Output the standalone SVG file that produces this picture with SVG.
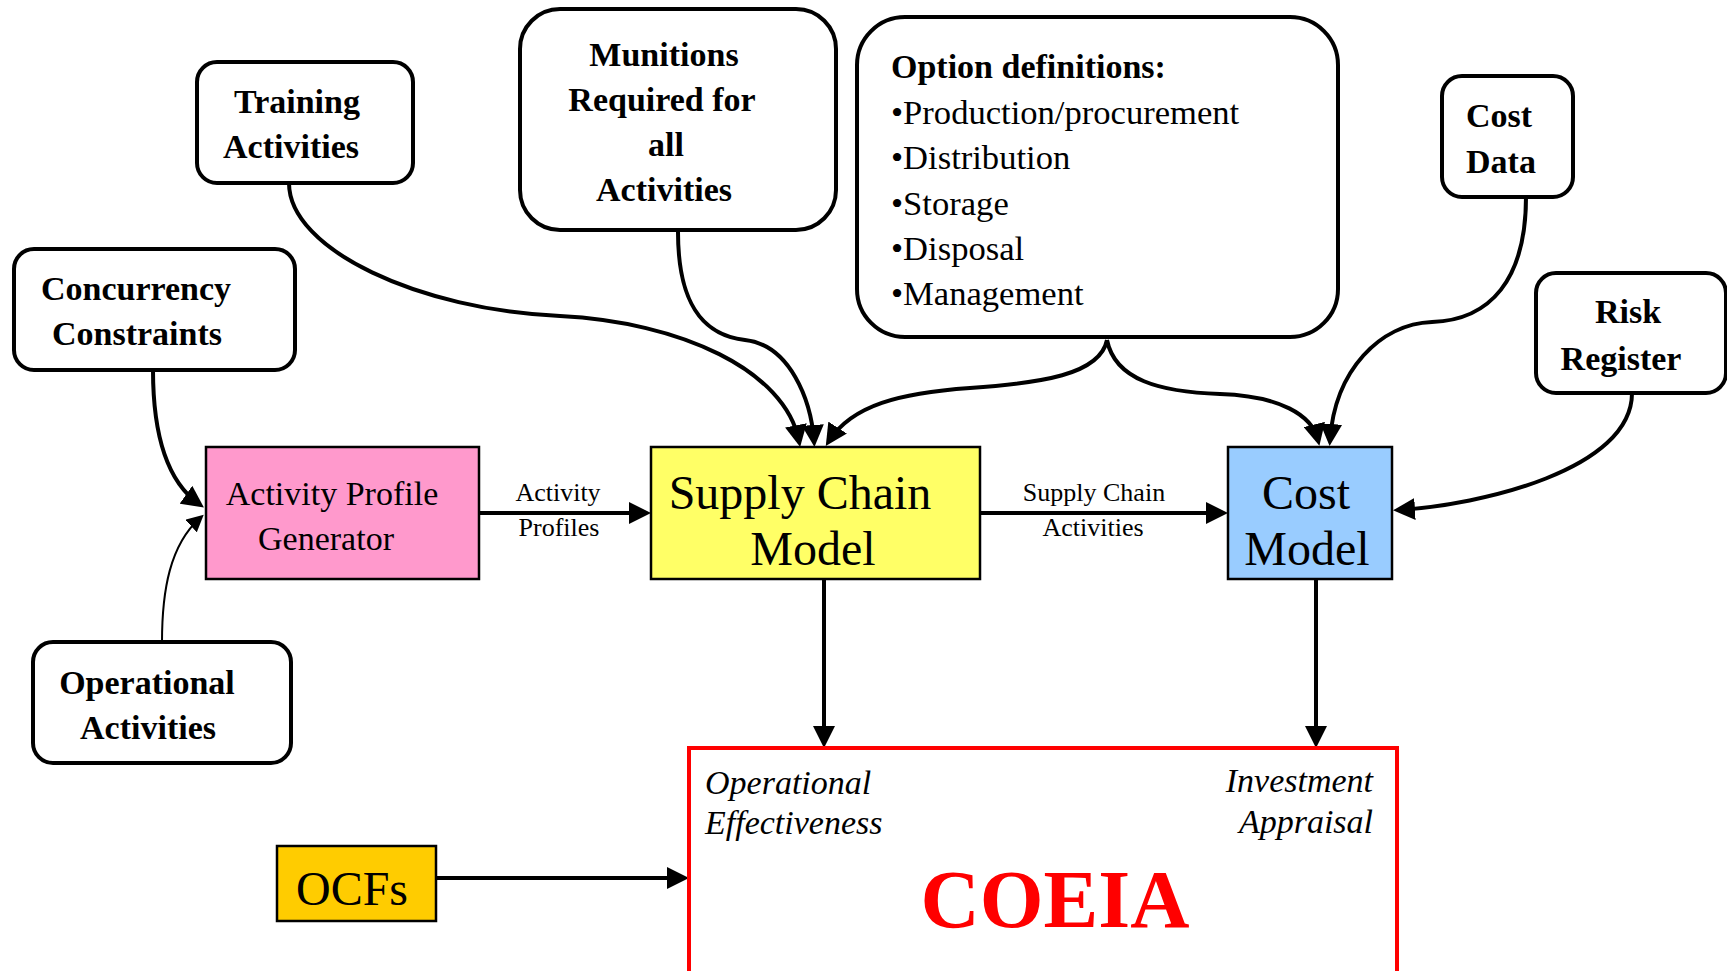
<svg xmlns="http://www.w3.org/2000/svg" width="1727" height="971" viewBox="0 0 1727 971">
  <style>
    text { font-family: "Liberation Serif", "Times New Roman", serif; fill: #000; }
    .bold { font-weight: bold; font-size: 34px; }
    .reg { font-size: 34px; }
    .list { font-size: 34.6px; }
    .big { font-size: 48px; }
    .lbl { font-size: 26px; }
    .ital { font-style: italic; font-size: 34px; }
    .mid { text-anchor: middle; }
    .end { text-anchor: end; }
    .rbox { fill: #fff; stroke: #000; stroke-width: 4; }
    .cbox { stroke: #000; stroke-width: 2.5; }
    .conn { fill: none; stroke: #000; stroke-width: 4; }
    .thin { fill: none; stroke: #000; stroke-width: 2; }
  </style>
  <defs>
    <marker id="arrow" markerUnits="userSpaceOnUse" markerWidth="22" markerHeight="22" refX="16" refY="11" orient="auto">
      <path d="M0,0 L22,11 L0,22 z" fill="#000"/>
    </marker>
    <marker id="arrowSm" markerUnits="userSpaceOnUse" markerWidth="17" markerHeight="17" refX="12" refY="8.5" orient="auto">
      <path d="M0,0 L17,8.5 L0,17 z" fill="#000"/>
    </marker>
  </defs>

  <rect width="1727" height="971" fill="#fff"/>

  <!-- connectors -->
  <g id="connectors">
    <path class="conn" d="M289,183 C289,250 420,310 560,316 C680,322 785,370 799,441" marker-end="url(#arrow)"/>
    <path class="conn" d="M678,232 C678,300 700,335 745,340 C790,345 811,400 814,441" marker-end="url(#arrow)"/>
    <path class="conn" d="M1107,340 C1100,375 1040,383 970,388 C900,393 852,405 829,441" marker-end="url(#arrow)"/>
    <path class="conn" d="M1107,340 C1115,380 1160,392 1220,394 C1280,396 1312,415 1318,440" marker-end="url(#arrow)"/>
    <path class="conn" d="M1526,197 C1526,280 1490,320 1432,322 C1380,324 1335,370 1330,440" marker-end="url(#arrow)"/>
    <path class="conn" d="M1632,393 C1632,470 1480,505 1399,510" marker-end="url(#arrow)"/>
    <path class="conn" d="M153,370 C153,430 165,480 199,504" marker-end="url(#arrow)"/>
    <path class="thin" d="M162,642 C162,590 170,545 200,518" marker-end="url(#arrowSm)"/>
    <path class="conn" d="M479,513 H645" marker-end="url(#arrow)"/>
    <path class="conn" d="M980,513 H1222" marker-end="url(#arrow)"/>
    <path class="conn" d="M824,579 V742" marker-end="url(#arrow)"/>
    <path class="conn" d="M1316,579 V742" marker-end="url(#arrow)"/>
    <path class="conn" d="M436,878 H683" marker-end="url(#arrow)"/>
    <text class="lbl mid" x="558" y="501">Activity</text>
    <text class="lbl mid" x="559" y="536">Profiles</text>
    <text class="lbl mid" x="1094" y="501">Supply Chain</text>
    <text class="lbl mid" x="1093" y="536">Activities</text>
  </g>

  <!-- input boxes -->
  <g id="training">
    <rect class="rbox" x="197" y="62" width="216" height="121" rx="20"/>
    <text class="bold mid" x="297" y="113">Training</text>
    <text class="bold mid" x="291" y="158">Activities</text>
  </g>
  <g id="concurrency">
    <rect class="rbox" x="14" y="249" width="281" height="121" rx="20"/>
    <text class="bold mid" x="136" y="300">Concurrency</text>
    <text class="bold mid" x="137" y="345">Constraints</text>
  </g>
  <g id="munitions">
    <rect class="rbox" x="520" y="9" width="316" height="221" rx="40"/>
    <text class="bold mid" x="664" y="66">Munitions</text>
    <text class="bold mid" x="662" y="111">Required for</text>
    <text class="bold mid" x="666" y="156">all</text>
    <text class="bold mid" x="664" y="201">Activities</text>
  </g>
  <g id="options">
    <rect class="rbox" x="857" y="17" width="481" height="320" rx="48"/>
    <text class="bold" x="891" y="78">Option definitions:</text>
    <text class="list" x="891" y="124">•Production/procurement</text>
    <text class="list" x="891" y="169">•Distribution</text>
    <text class="list" x="891" y="215">•Storage</text>
    <text class="list" x="891" y="260">•Disposal</text>
    <text class="list" x="891" y="305">•Management</text>
  </g>
  <g id="cost-data">
    <rect class="rbox" x="1442" y="76" width="131" height="121" rx="20"/>
    <text class="bold" x="1466" y="127">Cost</text>
    <text class="bold" x="1466" y="173">Data</text>
  </g>
  <g id="risk-register">
    <rect class="rbox" x="1536" y="273" width="190" height="120" rx="20"/>
    <text class="bold mid" x="1628" y="323">Risk</text>
    <text class="bold mid" x="1621" y="370">Register</text>
  </g>
  <g id="operational-activities">
    <rect class="rbox" x="33" y="642" width="258" height="121" rx="20"/>
    <text class="bold mid" x="147" y="694">Operational</text>
    <text class="bold mid" x="148" y="739">Activities</text>
  </g>

  <!-- model boxes -->
  <g id="activity-profile-generator">
    <rect class="cbox" x="206" y="447" width="273" height="132" fill="#FF99CC"/>
    <text class="reg mid" x="332" y="505">Activity Profile</text>
    <text class="reg mid" x="326" y="550">Generator</text>
  </g>
  <g id="supply-chain-model">
    <rect class="cbox" x="651" y="447" width="329" height="132" fill="#FFFF66"/>
    <text class="big mid" x="800" y="509">Supply Chain</text>
    <text class="big mid" x="813" y="565">Model</text>
  </g>
  <g id="cost-model">
    <rect class="cbox" x="1228" y="447" width="164" height="132" fill="#99CCFF"/>
    <text class="big mid" x="1306" y="509">Cost</text>
    <text class="big mid" x="1307" y="565">Model</text>
  </g>
  <g id="ocfs">
    <rect class="cbox" x="277" y="846" width="159" height="75" fill="#FFCC00"/>
    <text class="big mid" x="352" y="905">OCFs</text>
  </g>
  <g id="coeia">
    <rect x="689" y="748" width="708" height="250" fill="#fff" stroke="#FF0000" stroke-width="4"/>
    <text class="ital" x="705" y="794">Operational</text>
    <text class="ital" x="705" y="834">Effectiveness</text>
    <text class="ital end" x="1373" y="792">Investment</text>
    <text class="ital end" x="1373" y="833">Appraisal</text>
    <text class="mid" x="1055" y="927" style="font-size:82px;font-weight:bold;fill:#FF0000">COEIA</text>
  </g>
</svg>
